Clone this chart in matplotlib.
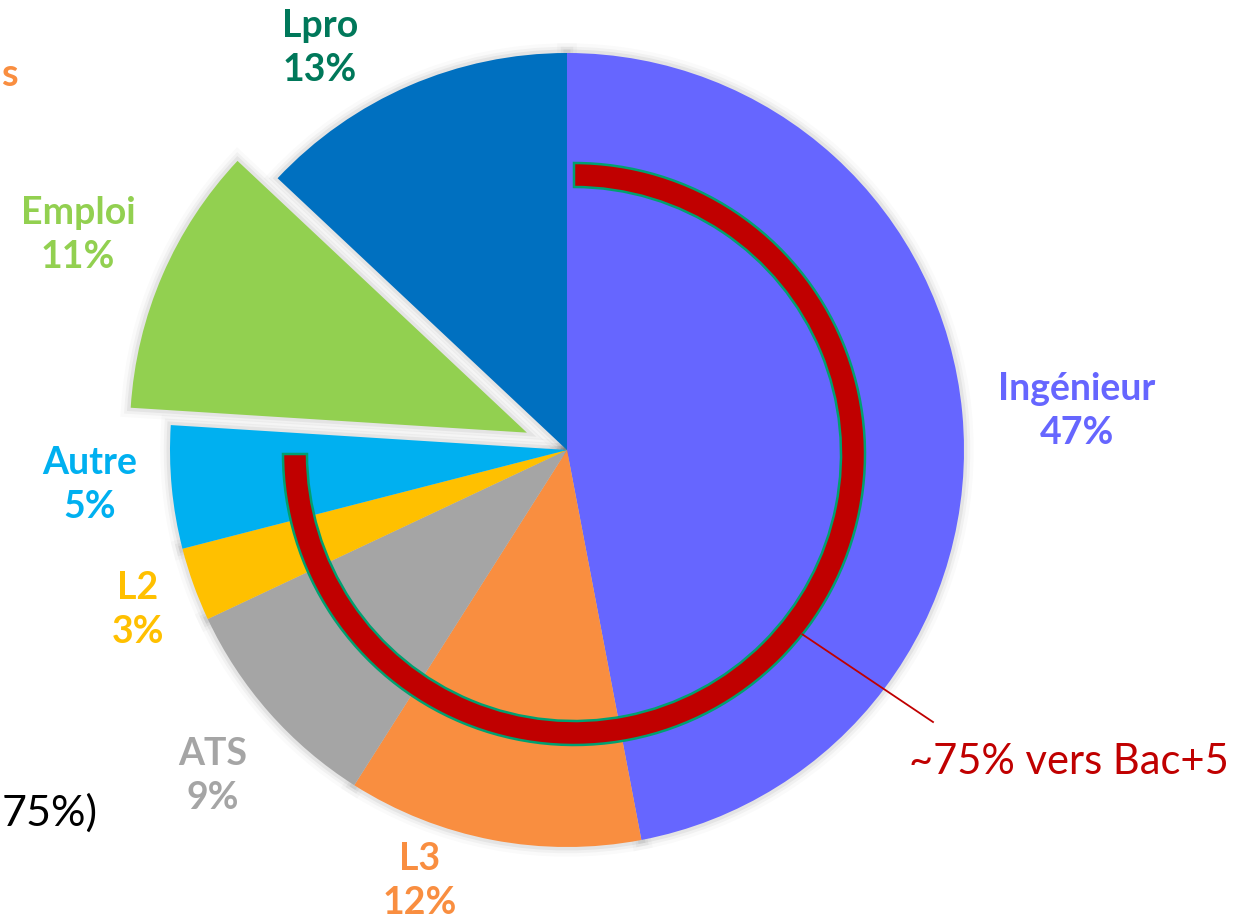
import matplotlib.pyplot as plt
from matplotlib.patches import Wedge
import numpy as np

# poursuites d'études
labels = ['Ingénieur', 'L3', 'ATS', 'L2', 'Autre', 'Emploi', 'Lpro']
values = [47, 12, 9, 3, 5, 11, 13]
colors = ['#6666FF', '#F98E40', '#A5A5A5', '#FFC000', '#00B0F0', '#92D050', '#0070C0']
text_colors = ['#6666FF', '#F98E40', '#A5A5A5', '#FFC000', '#00B0F0', '#92D050', '#00785A']
explode = [0, 0, 0, 0, 0, 0.11, 0]
bac5_share = 75

W, H = 1250, 924
plt.rcParams['font.family'] = ['Lato', 'DejaVu Sans']

fig = plt.figure(figsize=(W / 100, H / 100), dpi=100, facecolor='white')
ax = fig.add_axes([0, 0, 1, 1])

cx, cy, R = 567, H - 450, 397

# soft shadow behind the slices
angles = np.cumsum([0] + values) / sum(values) * 360
for i in range(len(values)):
    mid = np.deg2rad(90 - (angles[i] + angles[i + 1]) / 2)
    ox = cx + explode[i] * R * np.cos(mid)
    oy = cy + explode[i] * R * np.sin(mid)
    t1, t2 = 90 - angles[i + 1], 90 - angles[i]
    for lw, a in [(14, 0.02), (9, 0.035), (5, 0.05)]:
        ax.add_patch(Wedge((ox, oy), R, t1, t2, facecolor='none',
                           edgecolor='black', lw=lw, alpha=a, zorder=1))

# explode is in data units here, so scale it by the radius
wedges, _ = ax.pie(values, colors=colors, explode=[e * R for e in explode],
                   startangle=90, counterclock=False, radius=R, center=(cx, cy),
                   frame=True, wedgeprops=dict(linewidth=0))
for w in wedges:
    w.set_zorder(2)
ax.set_xlim(0, W)
ax.set_ylim(0, H)
ax.set_aspect('equal')
ax.axis('off')

# label anchors (pixels from top-left)
label_pos = [(1077, 411), (420, 881), (213, 776), (138, 610), (90, 485), (78, 235), (320, 48)]
for lab, v, c, (px, py) in zip(labels, values, text_colors, label_pos):
    ax.text(px, H - py, f'{lab}\n{v}%', ha='center', va='center', color=c,
            fontsize=27, fontweight='bold', linespacing=1.38, zorder=5)

# arc ~75% vers Bac+5
acx, acy, ar, aw = 574, H - 454, 291, 24
arc_end = 90 - bac5_share / 100 * 360
ax.add_patch(Wedge((acx, acy), ar, arc_end + 360 if arc_end < 0 else arc_end, 450,
                   width=aw, facecolor='#C00000', edgecolor='#00A070', lw=1.8, zorder=4))

a = np.deg2rad(-38.3)
x0, y0 = acx + ar * np.cos(a), acy + ar * np.sin(a)
ax.plot([x0, 933], [y0, H - 722], color='#C00000', lw=1.3, zorder=4)
ax.text(1069, H - 762, f'~{bac5_share}% vers Bac+5', ha='center', va='center',
        color='#C00000', fontsize=30, zorder=5)

# bouts de texte en bord de cadre
ax.text(1, H - 75, 's', ha='left', va='center', color='#F98E40',
        fontsize=27, fontweight='bold')
ax.text(98, H - 813, '75%)', ha='right', va='center', color='black', fontsize=31)

fig.savefig('out.png', dpi=100, facecolor='white')
